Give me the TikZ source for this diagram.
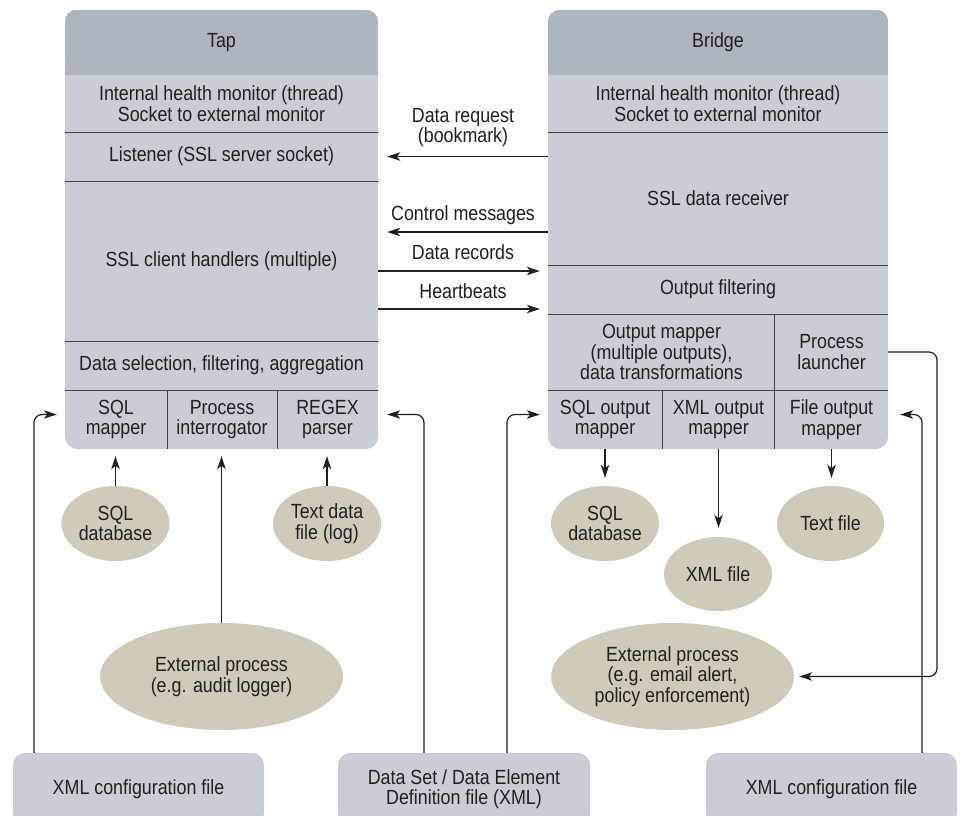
\documentclass[tikz,border=0pt]{standalone}
\usepackage{fontspec}
\setmainfont{Liberation Sans}[FakeStretch=0.87]
\usetikzlibrary{shapes.geometric,arrows.meta}
\definecolor{hdr}{RGB}{173,181,190}
\definecolor{body}{RGB}{201,206,214}
\definecolor{tan}{RGB}{207,202,185}
\definecolor{ink}{RGB}{35,31,32}
\tikzset{
  txt/.style={text=ink, font=\fontsize{20.5}{20.5}\selectfont, align=center, inner sep=0pt},
  cell/.style={txt, rectangle},
  panel/.style={rectangle, rounded corners=12pt, fill=body, inner sep=0pt},
  oval/.style={txt, ellipse, fill=tan},
  div/.style={draw=ink!85, line width=1.1pt},
  arr/.style={draw=ink, line width=1.2pt, -{Stealth[length=13pt,width=8.5pt,inset=3.5pt]}},
  lbl/.style={txt}
}
\begin{document}
\begin{tikzpicture}[x=1pt,y=-1pt]
\useasboundingbox (0,0) rectangle (961,816);
\clip (0,0) rectangle (961,816);

% ---------- Tap ----------
\node[panel, minimum width=313, minimum height=439] (tap) at (221.5,229.5) {};
\begin{scope}
  \clip[rounded corners=12pt] (tap.north west) rectangle (tap.south east);
  \fill[hdr] (tap.north west) rectangle (378,75);
\end{scope}
\node[cell, minimum width=313, minimum height=65]  (tapHead)   at (221.5,42.5) {Tap};
\node[cell, minimum width=313, minimum height=57]  (tapHealth) at (221.5,103.5) {Internal health monitor (thread)\\Socket to external monitor};
\node[cell, minimum width=313, minimum height=49]  (listener)  at (221.5,156.5) {Listener (SSL server socket)};
\node[cell, minimum width=313, minimum height=160] (tapClient) at (221.5,261) {SSL client handlers (multiple)};
\node[cell, minimum width=313, minimum height=49]  (tapSelect) at (221.5,365.5) {Data selection, filtering, aggregation};
\node[cell, minimum width=102, minimum height=59]  (sqlmap)    at (116,419.5) {SQL\\mapper};
\node[cell, minimum width=110, minimum height=59]  (procint)   at (222,419.5) {Process\\interrogator};
\node[cell, minimum width=101, minimum height=59]  (regex)     at (327.5,419.5) {REGEX\\parser};
\draw[div] (tapHealth.south west) -- (tapHealth.south east);
\draw[div] (listener.south west) -- (listener.south east);
\draw[div] (tapClient.south west) -- (tapClient.south east);
\draw[div] (tapSelect.south west) -- (tapSelect.south east);
\draw[div] (sqlmap.north east) -- (sqlmap.south east);
\draw[div] (procint.north east) -- (procint.south east);

% ---------- Bridge ----------
\node[panel, minimum width=340, minimum height=439] (bridge) at (718,229.5) {};
\begin{scope}
  \clip[rounded corners=12pt] (bridge.north west) rectangle (bridge.south east);
  \fill[hdr] (bridge.north west) rectangle (888,75);
\end{scope}
\node[cell, minimum width=340, minimum height=65]  (brHead)   at (718,42.5) {Bridge};
\node[cell, minimum width=340, minimum height=57]  (brHealth) at (718,103.5) {Internal health monitor (thread)\\Socket to external monitor};
\node[cell, minimum width=340, minimum height=133] (receiver) at (718,198.5) {SSL data receiver};
\node[cell, minimum width=340, minimum height=49]  (filter)   at (718,289.5) {Output filtering};
\node[cell, minimum width=227, minimum height=76]  (outmap)   at (661.5,352) {Output mapper\\(multiple outputs),\\data transformations};
\node[cell, minimum width=113, minimum height=76]  (launcher) at (831.5,352) {Process\\launcher};
\node[cell, minimum width=114, minimum height=59]  (sqlout)   at (605,419.5) {SQL output\\mapper};
\node[cell, minimum width=113, minimum height=59]  (xmlout)   at (718.5,419.5) {XML output\\mapper};
\node[cell, minimum width=113, minimum height=59]  (fileout)  at (831.5,419.5) {File output\\mapper};
\draw[div] (brHealth.south west) -- (brHealth.south east);
\draw[div] (receiver.south west) -- (receiver.south east);
\draw[div] (filter.south west) -- (filter.south east);
\draw[div] (outmap.south west) -- (launcher.south east);
\draw[div] (launcher.north west) -- (fileout.south west);
\draw[div] (sqlout.north east) -- (sqlout.south east);

% ---------- messages between Tap and Bridge ----------
\draw[arr, shorten >=9pt] (receiver.west |- listener.east) -- (listener.east)
  node[lbl, midway, anchor=south, yshift=9pt] {Data request\\(bookmark)};
\coordinate (cmsg) at ([yshift=-33.5pt]receiver.west);
\draw[arr, shorten >=9pt] (cmsg) -- (cmsg -| tapClient.east)
  node[lbl, midway, anchor=base, yshift=12pt] {Control messages};
\coordinate (drec) at ([yshift=18.5pt]filter.west);
\draw[arr, shorten >=8pt] (drec -| tapClient.east) -- (drec)
  node[lbl, midway, anchor=base, yshift=12pt] {Data records};
\coordinate (hbeat) at ([yshift=-19.5pt]filter.west);
\draw[arr, shorten >=8pt] (hbeat -| tapClient.east) -- (hbeat)
  node[lbl, midway, anchor=base, yshift=11pt] {Heartbeats};

% ---------- data sources and sinks ----------
\node[oval, minimum width=108, minimum height=75]  (sqlL)  at (115.5,523.5) {SQL\\database};
\node[oval, minimum width=108, minimum height=75]  (logL)  at (327,523.5) {Text data\\file (log)};
\node[oval, minimum width=243, minimum height=107] (extL)  at (221.5,676.5) {External process\\(e.g. audit logger)};
\node[oval, minimum width=108, minimum height=75]  (sqlR)  at (605,523.5) {SQL\\database};
\node[oval, minimum width=108, minimum height=74]  (xmlR)  at (718,574) {XML file};
\node[oval, minimum width=107, minimum height=75]  (txtR)  at (830.5,523.5) {Text file};
\node[oval, minimum width=243, minimum height=107] (extR)  at (672.5,676.5) {External process\\(e.g. email alert,\\policy enforcement)};

\draw[arr, shorten >=7pt] (sqlL.north) -- (sqlL.north |- sqlmap.south);
\draw[arr, shorten >=7pt] (logL.north) -- (logL.north |- regex.south);
\draw[arr, shorten >=7pt] (extL.north) -- (extL.north |- procint.south);
\draw[arr, shorten >=8pt] (sqlout.south) -- (sqlout.south |- sqlR.north);
\draw[arr, shorten >=9pt] (xmlout.south) -- (xmlout.south |- xmlR.north);
\draw[arr, shorten >=8pt] (fileout.south) -- (fileout.south |- txtR.north);

% ---------- configuration files ----------
\node[panel, txt, minimum width=251, minimum height=72] (cfgL) at (138.5,789) {XML configuration file};
\node[panel, txt, minimum width=252, minimum height=72] (dsd)  at (464,789) {Data Set / Data Element\\Definition file (XML)};
\node[panel, txt, minimum width=251, minimum height=72] (cfgR) at (831.5,789) {XML configuration file};

\coordinate (colA) at (34,0);
\coordinate (colB) at (424,0);
\coordinate (colC) at (507,0);
\coordinate (colD) at (922,0);
\coordinate (colE) at (937,0);
\draw[arr, rounded corners=8pt, shorten >=8pt] (cfgL.north -| colA) |- ([yshift=5pt]sqlmap.west);
\draw[arr, rounded corners=8pt, shorten >=9pt] (dsd.north -| colB) |- ([yshift=5pt]regex.east);
\draw[arr, rounded corners=8pt, shorten >=8pt] (dsd.north -| colC) |- ([yshift=5pt]sqlout.west);
\draw[arr, rounded corners=8pt, shorten >=12pt] (cfgR.north -| colD) |- ([yshift=5pt]fileout.east);
\draw[arr, rounded corners=8pt, shorten >=5pt] (launcher.east) -- (launcher.east -| colE) |- (extR.east);
\end{tikzpicture}
\end{document}
